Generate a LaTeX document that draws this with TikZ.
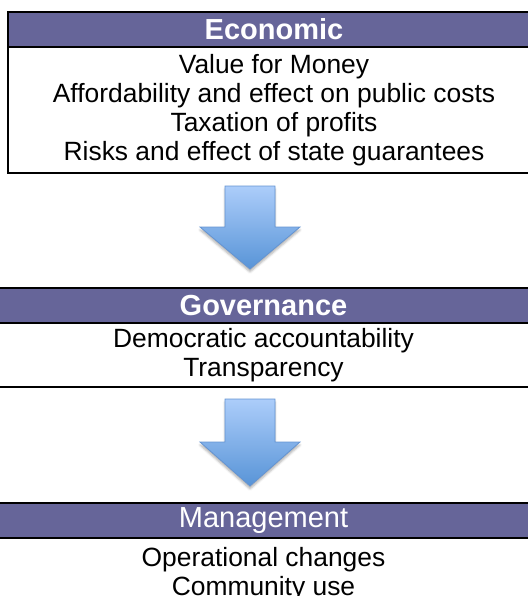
\documentclass[tikz,border=0pt]{standalone}
\usepackage{fontspec}
\setmainfont{Liberation Sans}
\usetikzlibrary{positioning,shadows.blur}

\definecolor{headblue}{RGB}{102,101,153}
\definecolor{arrowtop}{RGB}{172,205,250}
\definecolor{arrowbot}{RGB}{88,148,215}
\definecolor{arrowline}{RGB}{100,148,210}

\tikzset{
  headbox/.style={draw, line width=1.5pt, fill=headblue, text=white, inner sep=0pt, outer sep=0pt,
    minimum height=35pt, font=\fontsize{29}{32}\selectfont},
  boldhead/.style={headbox, font=\fontsize{29}{32}\selectfont\bfseries},
  listbox/.style={draw, line width=1.5pt, inner sep=0pt, outer sep=0pt, align=center,
    font=\fontsize{26.4}{29}\selectfont},
  downarrow/.style={draw=arrowline, line width=0.8pt, top color=arrowtop, bottom color=arrowbot,
    blur shadow={shadow xshift=0pt, shadow yshift=-3pt, shadow opacity=30}}
}

\begin{document}
\begin{tikzpicture}[x=1pt,y=-1pt]
  \useasboundingbox (0,0) rectangle (527,596);

  % Boxes
  \node[boldhead, anchor=north west, minimum width=532pt] (econ) at (8,12) {Economic};
  \node[listbox, below=0pt of econ, minimum width=532pt, minimum height=126pt] (econ_list)
    {Value for Money\\Affordability and effect on public costs\\Taxation of profits\\Risks and effect of state guarantees};

  \node[boldhead, anchor=north west, minimum width=537pt] (gov) at (-5,288) {Governance};
  \node[listbox, below=0pt of gov, minimum width=537pt, minimum height=64pt] (gov_list)
    {Democratic accountability\\Transparency};

  \node[headbox, anchor=north west, minimum width=537pt] (man) at (-5,503) {Management};
  \node[listbox, below=0pt of man, minimum width=537pt, minimum height=72pt] (man_list)
    {Operational changes\\Community use};

  % Arrows
  \path[downarrow] (225,186) -- (275,186) -- (275,227) -- (300,227) -- (250,269) -- (200,227) -- (225,227) -- cycle;
  \path[downarrow] (225,399) -- (275,399) -- (275,442) -- (300,442) -- (250,486) -- (200,442) -- (225,442) -- cycle;
\end{tikzpicture}
\end{document}
